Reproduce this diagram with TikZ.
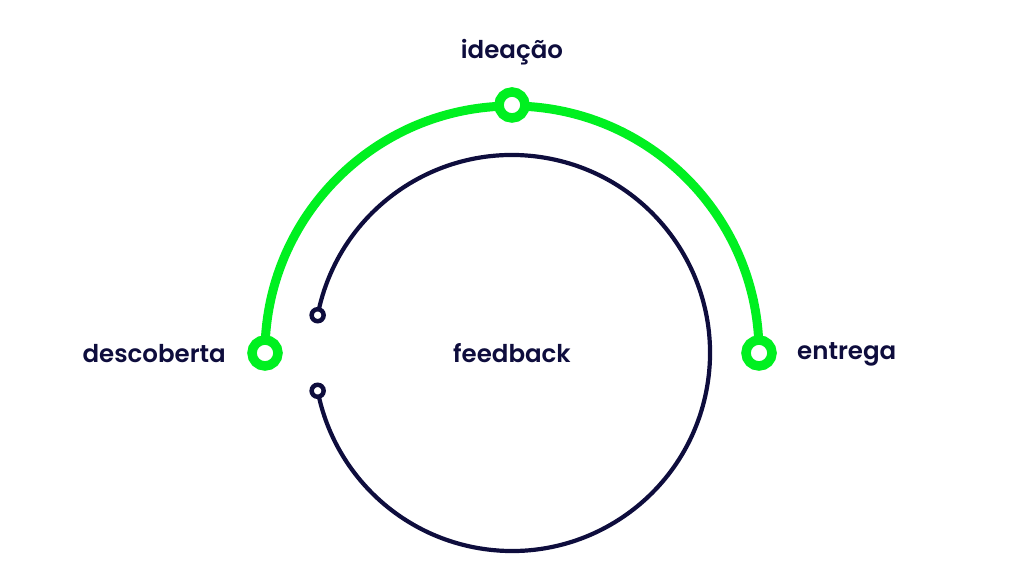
\documentclass[tikz,border=0pt]{standalone}
\usepackage{fontspec}
\setmainfont{Poppins}[BoldFont={* SemiBold}]
\usepackage{xcolor}
\usetikzlibrary{positioning, backgrounds, calc}

\definecolor{loopgreen}{HTML}{00F020}
\definecolor{navy}{HTML}{0E0D3D}

\begin{document}
\begin{tikzpicture}[
  x=1pt, y=1pt,
  stagedot/.style={circle, draw=loopgreen, line width=9.5pt, fill=white, minimum size=26pt, inner sep=0pt},
  enddot/.style={circle, draw=navy, line width=4.5pt, fill=white, minimum size=12pt, inner sep=0pt},
  stagelabel/.style={font=\fontsize{24.5}{28}\selectfont\bfseries, text=navy, inner sep=0pt},
  greenarc/.style={draw=loopgreen, line width=9pt},
  navyarc/.style={draw=navy, line width=4.2pt}
]
\useasboundingbox (0,0) rectangle (1024,588);
\coordinate (mid) at (512,235);
% stages on the green arc
\node[stagedot] (descoberta) at (265,235) {};
\node[stagedot] (ideacao) at (512,483) {};
\node[stagedot] (entrega) at (759,235) {};
% ends of the feedback loop
\node[enddot] (loopstart) at ($(mid)+(169:198)$) {};
\node[enddot] (loopend) at ($(mid)+(-169:198)$) {};
\begin{scope}[on background layer]
\draw[greenarc] (descoberta.center) arc[start angle=180, end angle=0, radius=247];
\draw[navyarc] (loopstart.center) arc[start angle=169, end angle=-169, radius=198];
\end{scope}
% labels
\node[stagelabel] (ideacaotext) at (512,536) {ideação};
\node[stagelabel, anchor=east] (descobertatext) at (226,234) {descoberta};
\node[stagelabel, anchor=west] (entregatext) at (797,234) {entrega};
\node[stagelabel] (feedbacktext) at (mid) {feedback};
\end{tikzpicture}
\end{document}
